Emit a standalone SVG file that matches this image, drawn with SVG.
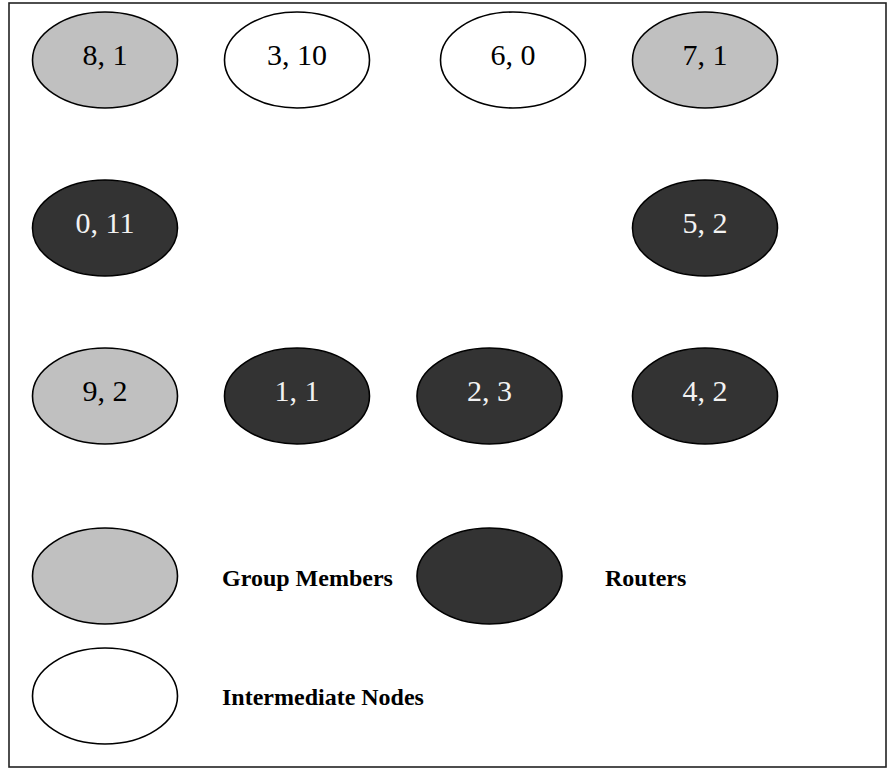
<svg xmlns="http://www.w3.org/2000/svg" width="888" height="769" viewBox="0 0 888 769">
  <style>
    .node { stroke: #000; stroke-width: 1.6; }
    .member { fill: #c0c0c0; }
    .router { fill: #333333; }
    .inter { fill: #ffffff; }
    .lbl { font-family: "Liberation Serif", "Times New Roman", serif; font-size: 30px; text-anchor: middle; }
    .dark { fill: #000; }
    .light { fill: #f2f2f2; }
    .key { font-family: "Liberation Serif", "Times New Roman", serif; font-size: 24px; font-weight: bold; fill: #000; }
  </style>
  <rect x="0" y="0" width="888" height="769" fill="#ffffff"/>
  <!-- frame -->
  <rect x="9" y="3" width="877" height="764" fill="none" stroke="#222" stroke-width="1.6"/>

  <!-- connectors: none drawn -->
  <g id="connectors"></g>

  <!-- top row -->
  <g id="n8">
    <ellipse class="node member" cx="105" cy="60" rx="72.5" ry="48"/>
    <text class="lbl dark" x="105" y="65">8, 1</text>
  </g>
  <g id="n3">
    <ellipse class="node inter" cx="297" cy="60" rx="72.5" ry="48"/>
    <text class="lbl dark" x="297" y="65">3, 10</text>
  </g>
  <g id="n6">
    <ellipse class="node inter" cx="513" cy="60" rx="72.5" ry="48"/>
    <text class="lbl dark" x="513" y="65">6, 0</text>
  </g>
  <g id="n7">
    <ellipse class="node member" cx="705" cy="60" rx="72.5" ry="48"/>
    <text class="lbl dark" x="705" y="65">7, 1</text>
  </g>

  <!-- middle row -->
  <g id="n0">
    <ellipse class="node router" cx="105" cy="228" rx="72.5" ry="48"/>
    <text class="lbl light" x="105" y="233">0, 11</text>
  </g>
  <g id="n5">
    <ellipse class="node router" cx="705" cy="228" rx="72.5" ry="48"/>
    <text class="lbl light" x="705" y="233">5, 2</text>
  </g>

  <!-- bottom row -->
  <g id="n9">
    <ellipse class="node member" cx="105" cy="396" rx="72.5" ry="48"/>
    <text class="lbl dark" x="105" y="401">9, 2</text>
  </g>
  <g id="n1">
    <ellipse class="node router" cx="297" cy="396" rx="72.5" ry="48"/>
    <text class="lbl light" x="297" y="401">1, 1</text>
  </g>
  <g id="n2">
    <ellipse class="node router" cx="489.5" cy="396" rx="72.5" ry="48"/>
    <text class="lbl light" x="489.5" y="401">2, 3</text>
  </g>
  <g id="n4">
    <ellipse class="node router" cx="705" cy="396" rx="72.5" ry="48"/>
    <text class="lbl light" x="705" y="401">4, 2</text>
  </g>

  <!-- legend -->
  <g id="legend-members">
    <ellipse class="node member" cx="105" cy="576" rx="72.5" ry="48"/>
    <text class="key" x="222" y="586">Group Members</text>
  </g>
  <g id="legend-routers">
    <ellipse class="node router" cx="489.5" cy="576" rx="72.5" ry="48"/>
    <text class="key" x="605" y="586">Routers</text>
  </g>
  <g id="legend-intermediate">
    <ellipse class="node inter" cx="105" cy="696" rx="72.5" ry="48"/>
    <text class="key" x="222" y="705">Intermediate Nodes</text>
  </g>
</svg>
